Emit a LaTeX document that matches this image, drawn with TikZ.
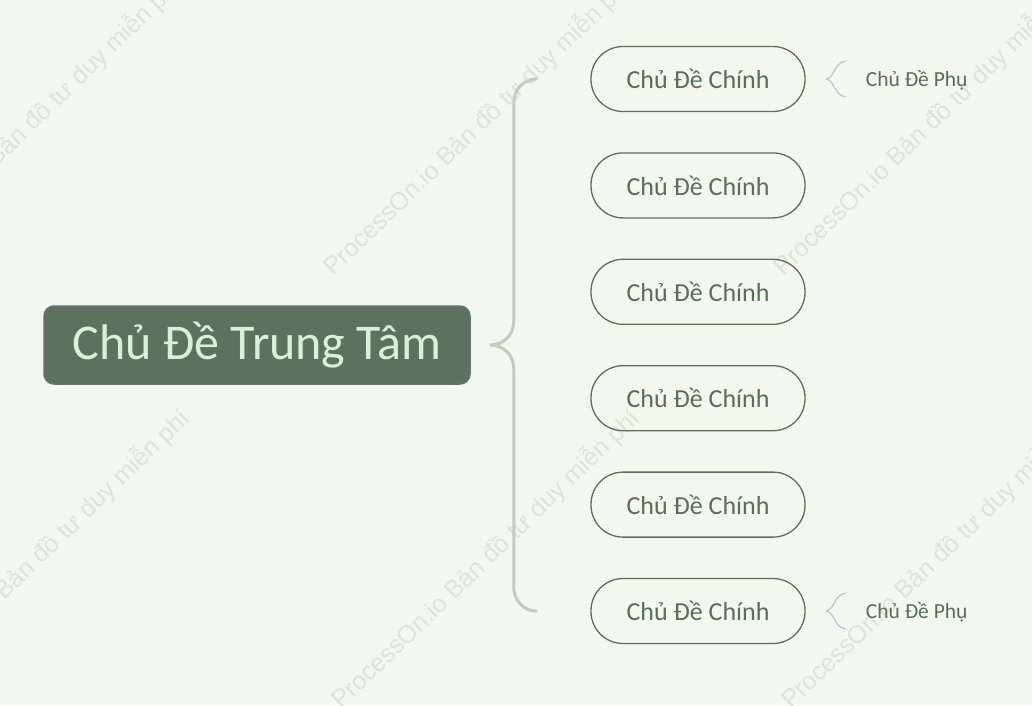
\documentclass[tikz,border=0pt]{standalone}
\usepackage{fontspec}
\setmainfont{Carlito}
\newfontfamily\markfont{Liberation Sans}
\usetikzlibrary{positioning,calc,shapes.misc}

\definecolor{paper}{HTML}{F2F7F0}
\definecolor{rootfill}{HTML}{5C7260}
\definecolor{rootline}{HTML}{6E6E6E}
\definecolor{roottext}{HTML}{DCEFD6}
\definecolor{mainline}{HTML}{5A725A}
\definecolor{maintext}{HTML}{5A6E5A}
\definecolor{branchline}{HTML}{C2CCBF}
\definecolor{subline}{HTML}{C9C1DC}
\definecolor{marktext}{HTML}{DEE4DC}

\begin{document}
\begin{tikzpicture}[x=1pt,y=-1pt]
\fill[paper] (0,0) rectangle (1032,705);
\useasboundingbox (0,0) rectangle (1032,705);
% watermark
\begin{scope}[every node/.style={rotate=44,text=marktext,font=\markfont\fontsize{25}{30}\selectfont}]
    \foreach \wx in {28,478,928} {
        \node at (\wx,126) {ProcessOn.io Bản đồ tư duy miễn phí};
        \node at (\wx+8,559) {ProcessOn.io Bản đồ tư duy miễn phí};
    }
\end{scope}
\begin{scope}[every node/.style={rectangle,rounded corners=10pt,draw=rootline,line width=1.5pt,
              fill=rootfill,text=roottext,minimum width=426pt,minimum height=78pt,
              font=\fontsize{50}{60}\selectfont}]
    \node (root) at (257,345) {Chủ Đề Trung Tâm};
\end{scope}
\begin{scope}[every node/.style={rectangle,rounded corners=32pt,draw=mainline,line width=1.3pt,
              text=maintext,minimum width=214pt,minimum height=65pt,
              font=\fontsize{26}{31}\selectfont},node distance=40.1pt]
    \node (m1) at (698,79) {Chủ Đề Chính};
    \node (m2) [below=of m1] {Chủ Đề Chính};
    \node (m3) [below=of m2] {Chủ Đề Chính};
    \node (m4) [below=of m3] {Chủ Đề Chính};
    \node (m5) [below=of m4] {Chủ Đề Chính};
    \node (m6) [below=of m5] {Chủ Đề Chính};
\end{scope}
\begin{scope}[every node/.style={anchor=west,inner sep=0pt,text=maintext,
              font=\fontsize{21.5}{26}\selectfont}]
    \node (s1) at ($(m1.east)+(60,1)$) {Chủ Đề Phụ};
    \node (s6) at ($(m6.east)+(60,1)$) {Chủ Đề Phụ};
\end{scope}
\begin{scope}[branch/.style={draw=branchline,line width=3pt,line cap=round},
              subbrace/.style={draw=subline,line width=1.3pt}]
    \coordinate (tip) at ($(root.east)+(19,0)$);
    \coordinate (spine) at ($(tip)+(24,0)$);
    \coordinate (top) at ($(m1.west)+(-54,0)$);
    \coordinate (bot) at ($(m6.west)+(-54,0)$);
    \path [branch] (top) .. controls +(-13,0) and +(0,-13) .. ($(spine|-top)+(0,24)$)
        -- ($(spine)+(0,-24)$) .. controls +(0,15) and +(13,0) .. (tip)
        .. controls +(13,0) and +(0,-15) .. ($(spine)+(0,24)$)
        -- ($(spine|-bot)+(0,-24)$) .. controls +(0,13) and +(-13,0) .. (bot);
    \path [subbrace] ($(m1.east)+(40,-18)$) .. controls +(-12,2) and +(9,-3) .. ($(m1.east)+(21,0)$)
        .. controls +(9,3) and +(-12,-2) .. ($(m1.east)+(40,18)$);
    \path [subbrace] ($(m6.east)+(40,-18)$) .. controls +(-12,2) and +(9,-3) .. ($(m6.east)+(21,0)$)
        .. controls +(9,3) and +(-12,-2) .. ($(m6.east)+(40,18)$);
\end{scope}
\end{tikzpicture}
\end{document}
